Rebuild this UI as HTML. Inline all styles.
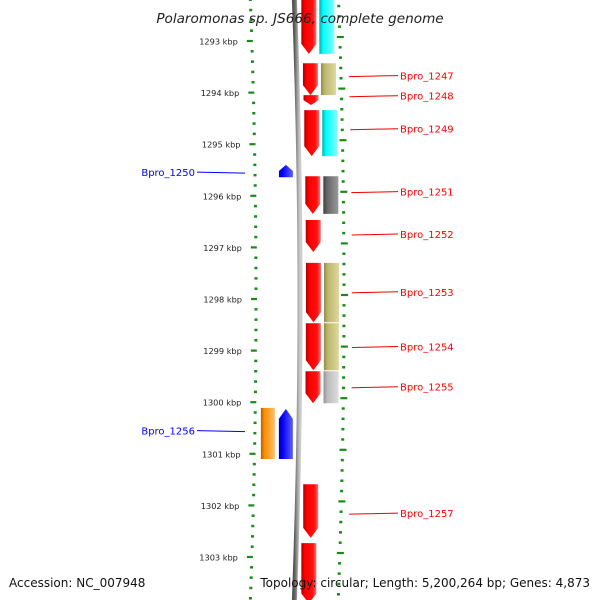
<!DOCTYPE html>
<html><head><meta charset="utf-8"><style>
body{margin:0;background:#fff;width:600px;height:600px;overflow:hidden}
svg{display:block}
</style></head><body>
<svg id="map" width="600" height="600" viewBox="0 0 600 600" font-family="'DejaVu Sans','Liberation Sans',sans-serif">
<defs>
<linearGradient id="gRed" x1="0" x2="1"><stop offset="0" stop-color="#b00000"/><stop offset="0.25" stop-color="#ff0000"/><stop offset="0.75" stop-color="#ff1010"/><stop offset="1" stop-color="#ff7070"/></linearGradient>
<linearGradient id="gCyan" x1="0" x2="1"><stop offset="0" stop-color="#00b0b0"/><stop offset="0.25" stop-color="#00ffff"/><stop offset="1" stop-color="#80ffff"/></linearGradient>
<linearGradient id="gOlive" x1="0" x2="1"><stop offset="0" stop-color="#8f8a50"/><stop offset="0.25" stop-color="#bdb76b"/><stop offset="1" stop-color="#ddd8a0"/></linearGradient>
<linearGradient id="gDark" x1="0" x2="1"><stop offset="0" stop-color="#404040"/><stop offset="0.25" stop-color="#666"/><stop offset="1" stop-color="#999"/></linearGradient>
<linearGradient id="gLight" x1="0" x2="1"><stop offset="0" stop-color="#909090"/><stop offset="0.25" stop-color="#bbb"/><stop offset="1" stop-color="#ddd"/></linearGradient>
<linearGradient id="gBlue" x1="0" x2="1"><stop offset="0" stop-color="#0000a0"/><stop offset="0.25" stop-color="#0000ff"/><stop offset="1" stop-color="#6060ff"/></linearGradient>
<linearGradient id="gOrange" x1="0" x2="1"><stop offset="0" stop-color="#b06000"/><stop offset="0.25" stop-color="#ff8c00"/><stop offset="1" stop-color="#ffc070"/></linearGradient>
<linearGradient id="gBack" x1="0" x2="1"><stop offset="0" stop-color="#555"/><stop offset="0.5" stop-color="#999"/><stop offset="1" stop-color="#ccc"/></linearGradient>
</defs>
<g id="ticks"></g>
<g id="backbone"></g>
<g id="genes"></g>
<g id="labels"></g>
<text x="300" y="23" text-anchor="middle" font-size="13.6" font-style="italic" fill="#222">Polaromonas sp. JS666, complete genome</text>
<text x="9" y="587" font-size="12" fill="#111">Accession: NC_007948</text>
<text x="590" y="587" text-anchor="end" font-size="12" fill="#111">Topology: circular; Length: 5,200,264 bp; Genes: 4,873</text>
</svg>
<script>
// data
const geneStarts = [1292.2,1293.43,1294.05,1294.34,1295.62,1296.47,1297.30,1298.47,1299.40,1301.59,1302.73, 1292.2,1293.43,1294.34,1295.62,1297.30,1298.47,1299.40, 1295.40,1300.13,1300.11];
const geneEnds   = [1293.25,1294.05,1294.24,1295.23,1296.35,1297.09,1298.45,1299.38,1300.02,1302.63,1303.9, 1293.25,1294.05,1295.23,1296.35,1298.45,1299.38,1300.02, 1295.64,1301.10,1301.10];
const geneTracks = [1,1,1,1,1,1,1,1,1,1,1, 2,2,2,2,2,2,2, -1,-1,-2];
const geneColors = ['gRed','gRed','gRed','gRed','gRed','gRed','gRed','gRed','gRed','gRed','gRed','gCyan','gOlive','gCyan','gDark','gOlive','gOlive','gLight','gBlue','gBlue','gOrange'];
const geneStrand = [1,1,1,1,1,1,1,1,1,1,1, 0,0,0,0,0,0,0, -1,-1,0];
const labelNames = ['Bpro_1247','Bpro_1248','Bpro_1249','Bpro_1250','Bpro_1251','Bpro_1252','Bpro_1253','Bpro_1254','Bpro_1255','Bpro_1256','Bpro_1257'];
const labelKbp   = [1293.67,1294.06,1294.70,1295.54,1295.92,1296.74,1297.86,1298.92,1299.70,1300.55,1302.15];
const labelSide  = [1,1,1,-1,1,1,1,1,1,-1,1];
const tickMajors = [1293,1294,1295,1296,1297,1298,1299,1300,1301,1302,1303];

const NS='http://www.w3.org/2000/svg';
const Y0=41, PX=51.6;
function yOf(k){return Y0+(k-1293)*PX;}
function bend(y){const d=y-300;return 2-d*d/16000;}
function mk(tag,attrs,parent){const e=document.createElementNS(NS,tag);for(const k in attrs)e.setAttribute(k,attrs[k]);parent.appendChild(e);return e;}
const tg=document.getElementById('ticks'),bg=document.getElementById('backbone'),gg=document.getElementById('genes'),lg=document.getElementById('labels');

// backbone
let d='';for(let y=-5;y<=605;y+=10){d+=(y<0?'M':'L')+(298+bend(y))+' '+y;}
const bb=mk('path',{d:d,stroke:'url(#gBack)','stroke-width':5,fill:'none'},bg);



// ticks
for(let k=1292.2;k<=1304;k+=0.2){
 const kk=Math.round(k*5)/5; const y=yOf(kk); const maj=Math.abs(kk-Math.round(kk))<0.01;
 const xl=254+bend(y), xr=342+bend(y);
 const tl=mk('line',{x1:xl-(maj?5:1.5),x2:xl+(maj?1:1.5),y1:y,y2:y,stroke:'#1a8a1a','stroke-width':maj?2.2:2.5},tg);
 
 
 const yr=y-4;
 const tr=mk('line',{x1:xr-(maj?3:1.5),x2:xr+(maj?4:1.5),y1:yr,y2:yr,stroke:'#1a8a1a','stroke-width':maj?2.2:2.5},tg);
 
 
}
tickMajors.forEach(k=>{const y=yOf(k);
 const t=mk('text',{x:240+bend(y),y:y+3.5,'text-anchor':'end','font-size':8.2,fill:'#222'},tg);t.textContent=k+' kbp';
 
 
});

// genes
const trackX={1:304,2:322,'-1':278,'-2':260};
for(let i=0;i<geneStarts.length;i++){
 const y1=yOf(geneStarts[i]),y2=yOf(geneEnds[i]);const x=trackX[geneTracks[i]]+bend((y1+y2)/2);const w=geneTracks[i]>0?15:14;
 let p;const h=Math.min(10,(y2-y1)*0.5);
 if(geneStrand[i]===1)p=[[x,y1],[x+w,y1],[x+w,y2-h],[x+w/2,y2],[x,y2-h]];
 else if(geneStrand[i]===-1)p=[[x,y1+h],[x+w/2,y1],[x+w,y1+h],[x+w,y2],[x,y2]];
 else p=[[x,y1],[x+w,y1],[x+w,y2],[x,y2]];
 const g=mk('polygon',{points:p.map(a=>a.join(',')).join(' '),fill:'url(#'+geneColors[i]+')'},gg);
 
 
}

// labels
for(let i=0;i<labelNames.length;i++){
 const y=yOf(labelKbp[i]);
 if(labelSide[i]>0){
  const x=350+bend(y);
  const l=mk('line',{x1:x,y1:y+1,x2:398,y2:y,stroke:'#e00','stroke-width':1},lg);
  
  
  const t=mk('text',{x:400,y:y+4,'font-size':10,fill:'#f00'},lg);t.textContent=labelNames[i];
  
  
 } else {
  const l=mk('line',{x1:197,y1:y,x2:245,y2:y+1,stroke:'#00f','stroke-width':1},lg);
  
  
  const t=mk('text',{x:195,y:y+4,'text-anchor':'end','font-size':10,fill:'#00f'},lg);t.textContent=labelNames[i];
  
  
 }
}
</script>
</body></html>
